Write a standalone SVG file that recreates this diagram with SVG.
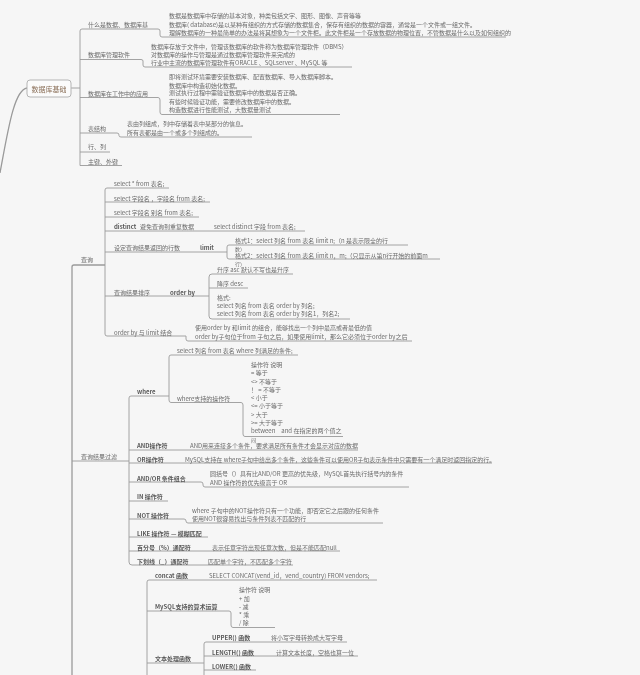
<svg xmlns="http://www.w3.org/2000/svg" width="640" height="675" viewBox="0 0 640 675">
<style>
text{font-family:"Microsoft YaHei","Noto Sans CJK SC","Noto Sans",sans-serif;font-size:6px;fill:#6a6a6a;dominant-baseline:central}
.b{font-weight:700;fill:#5a5a5a}
.r{font-size:7px;fill:#8a6f58}
.w{font-size:5px}
#connectors path{fill:none;stroke:#9a9a9a;stroke-width:.9}
#connectors .t{stroke-width:1.3}
</style>
<defs><filter id="soft" x="0" y="0" width="100%" height="100%" filterUnits="userSpaceOnUse"><feGaussianBlur stdDeviation="0.3"/></filter></defs>
<rect width="640" height="675" fill="#f6f6f6"/>
<g filter="url(#soft)">
<g id="connectors">
<path class="t" d="M27 88C14 90 8 130 0 173"/>
<path d="M71 88H80"/>
<path d="M80 165.500V31Q80 29 82 29H158Q160 29 160 31V35Q160 37 162 37H506"/>
<path d="M80 59.500H141Q143 59.500 143 61V65Q143 67 145 67H352"/>
<path d="M80 97.500H158Q160 97.500 160 100V112Q160 114.500 162 114.500H340"/>
<path d="M80 133H117Q119 133 119 135V135.500Q119 137 121 137H252"/>
<path d="M80 152H110"/>
<path d="M80 165.500H122"/>
<path class="t" d="M72 675V267Q72 265 74 265H105"/>
<path d="M105 334V190Q105 188 107 188H169"/>
<path d="M105 202H210M105 217H199M105 231H305M105 252H227M105 296H209"/>
<path d="M105 334Q105 336 107 336H186V339Q186 341 188 341H412"/>
<path d="M408 245H229Q227 245 227 247V257Q227 259 229 259H440"/>
<path d="M293 274H212Q209 274 209 277V316Q209 319 212 319H350M209 288H248"/>
<path d="M72 461H129"/>
<path d="M129 562V398Q129 396 131 396H169"/>
<path d="M298 355H171Q169 355 169 357V400Q169 402.500 171 402.500H241Q243 402.500 243 405V434Q243 436.500 245 436.500H343"/>
<path d="M129 450H358M129 463H492M129 501H168M129 537H208M129 551H340"/>
<path d="M129 482H201Q203 482 203 484V485Q203 487 205 487H409"/>
<path d="M129 519H184Q186 519 186 521Q186 523 188 523H383"/>
<path d="M129 562Q129 565 132 565H293"/>
<path d="M147 675V582Q147 580 149 580H377"/>
<path d="M147 611H229Q231 611 231 613V625Q231 627.500 233 627.500H275"/>
<path d="M147 663H204"/>
<path d="M204 675V644Q204 642 206 642H347M204 656H358M204 670H256"/>
</g>
<g id="root"><rect x="27" y="80" width="44" height="17" rx="3" fill="#fbfbfb" stroke="#b5b5b5"/><text class="r" x="49" y="88.500" text-anchor="middle">数据库基础</text></g>
<g id="n1"><text x="88" y="24">什么是数据、数据库基</text>
<text x="169" y="15">数据是数据库中存储的基本对象，种类包括文字、图形、图像、声音等等</text>
<text x="169" y="24">数据库( database)是以某种有组织的方式存储的数据集合，保存有组织的数据的容器，通常是一个文件或一组文件。</text>
<text x="169" y="32">理解数据库的一种最简单的办法是将其想象为一个文件柜。此文件柜是一个存放数据的物理位置，不管数据是什么以及如何组织的</text></g>
<g id="n2"><text x="88" y="54">数据库管理软件</text>
<text x="151" y="46">数据库存放于文件中，管理该数据库的软件称为数据库管理软件（DBMS）</text>
<text x="151" y="54">对数据库的操作与管理是通过数据库管理软件来完成的</text>
<text x="151" y="62">行业中主流的数据库管理软件有ORACLE 、SQLserver 、MySQL 等</text></g>
<g id="n3"><text x="88" y="93">数据库在工作中的应用</text>
<text x="169" y="76">即将测试环境需要安装数据库、配置数据库、导入数据库脚本。</text>
<text x="169" y="85">数据库中构造初始化数据。</text>
<text x="169" y="92.500">测试执行过程中需验证数据库中的数据是否正确。</text>
<text x="169" y="101">有些时候验证功能，需要修改数据库中的数据。</text>
<text x="169" y="109">构造数据进行性能测试，大数据量测试</text></g>
<g id="n4"><text x="88" y="128">表结构</text>
<text x="127" y="123">表由列组成，列中存储着表中某部分的信息。</text>
<text x="127" y="132">所有表都是由一个或多个列组成的。</text></g>
<g id="n5"><text x="88" y="146">行、列</text></g>
<g id="n6"><text x="88" y="161">主键、外键</text></g>
<g id="q0"><text x="81" y="259">查询</text></g>
<g id="q1"><text x="114" y="183">select * from 表名;</text></g>
<g id="q2"><text x="114" y="198">select 字段名 ，字段名 from 表名;</text></g>
<g id="q3"><text x="114" y="212">select 字段名 别名 from 表名;</text></g>
<g id="q4"><text class="b" x="114" y="226">distinct</text><text x="140" y="226">避免查询到重复数据</text><text x="214" y="226">select distinct 字段 from 表名;</text></g>
<g id="q5"><text x="114" y="247">设定查询结果返回的行数</text><text class="b" x="200" y="247">limit</text>
<text x="235" y="240.500">格式1：select 列名 from 表名 limit n;（n 是表示限全的行</text>
<text class="w" x="235" y="248">数）</text>
<text x="235" y="255">格式2：select 列名 from 表名 limit n，m;（只显示从第n行开始的前面m</text>
<text class="w" x="235" y="263">行）</text></g>
<g id="q6"><text x="114" y="292">查询结果排序</text><text class="b" x="170" y="292">order by</text>
<text x="217" y="269">升序 asc 默认不写也是升序</text>
<text x="217" y="283">降序 desc</text>
<text x="217" y="297">格式:</text>
<text x="217" y="305">select 列名 from 表名 order by 列名;</text>
<text x="217" y="313">select 列名 from 表名 order by 列名1，列名2;</text></g>
<g id="q7"><text x="114" y="332">order by 与 limit 结合</text>
<text x="195" y="327">使用order by 和limit 的组合，能够找出一个列中最高或者最低的值</text>
<text x="195" y="336">order by子句位于from 子句之后，如果使用limit，那么它必须位于order by之后</text></g>
<g id="f0"><text x="81" y="456">查询结果过滤</text></g>
<g id="f1"><text class="b" x="137" y="391">where</text>
<text x="177" y="350">select 列名 from 表名 where 列满足的条件;</text>
<text x="177" y="398">where支持的操作符</text>
<text x="251" y="364">操作符 说明</text>
<text x="251" y="372.500">= 等于</text>
<text x="251" y="381">&lt;&gt; 不等于</text>
<text x="251" y="389">！ = 不等于</text>
<text x="251" y="397">&lt; 小于</text>
<text x="251" y="405.500">&lt;= 小于等于</text>
<text x="251" y="414">&gt; 大于</text>
<text x="251" y="422">&gt;= 大于等于</text>
<text x="251" y="430">between　and 在指定的两个值之</text>
<text class="w" x="251" y="439">间</text></g>
<g id="f2"><text class="b" x="137" y="445">AND操作符</text><text x="190" y="445">AND用来连接多个条件，要求满足所有条件才会显示对应的数据</text></g>
<g id="f3"><text class="b" x="137" y="459">OR操作符</text><text x="185" y="459">MySQL支持在 where子句中给出多个条件，这些条件可以使用OR子句表示条件中只需要有一个满足时返回指定的行。</text></g>
<g id="f4"><text class="b" x="137" y="478">AND/OR 条件组合</text><text x="210" y="473">圆括号（）具有比AND/OR 更高的优先级，MySQL首先执行括号内的条件</text><text x="210" y="482">AND 操作符的优先级高于 OR</text></g>
<g id="f5"><text class="b" x="137" y="496">IN 操作符</text></g>
<g id="f6"><text class="b" x="137" y="515">NOT 操作符</text><text x="192" y="510">where 子句中的NOT操作符只有一个功能，即否定它之后跟的任何条件</text><text x="192" y="518">使用NOT很容易找出与条件列表不匹配的行</text></g>
<g id="f7"><text class="b" x="137" y="533">LIKE 操作符 — 模糊匹配</text></g>
<g id="f8"><text class="b" x="137" y="547">百分号（%）通配符</text><text x="212" y="547">表示任意字符出现任意次数，但是不能匹配null</text></g>
<g id="f9"><text class="b" x="137" y="561">下划线（_）通配符</text><text x="208" y="561">匹配单个字符，不匹配多个字符</text></g>
<g id="s1"><text class="b" x="155" y="575">concat 函数</text><text x="209" y="575">SELECT CONCAT(vend_id，vend_country) FROM vendors;</text></g>
<g id="s2"><text class="b" x="155" y="606">MySQL支持的算术运算</text>
<text x="239" y="589">操作符 说明</text>
<text x="239" y="598">+ 加</text>
<text x="239" y="606">- 减</text>
<text x="239" y="614">* 乘</text>
<text x="239" y="622">/ 除</text></g>
<g id="s3"><text class="b" x="155" y="658">文本处理函数</text></g>
<g id="s4"><text class="b" x="212" y="637">UPPER() 函数</text><text x="271" y="637">将小写字母转换成大写字母</text></g>
<g id="s5"><text class="b" x="212" y="652">LENGTH() 函数</text><text x="276" y="652">计算文本长度，空格也算一位</text></g>
<g id="s6"><text class="b" x="212" y="666">LOWER() 函数</text></g>
</g>
</svg>
